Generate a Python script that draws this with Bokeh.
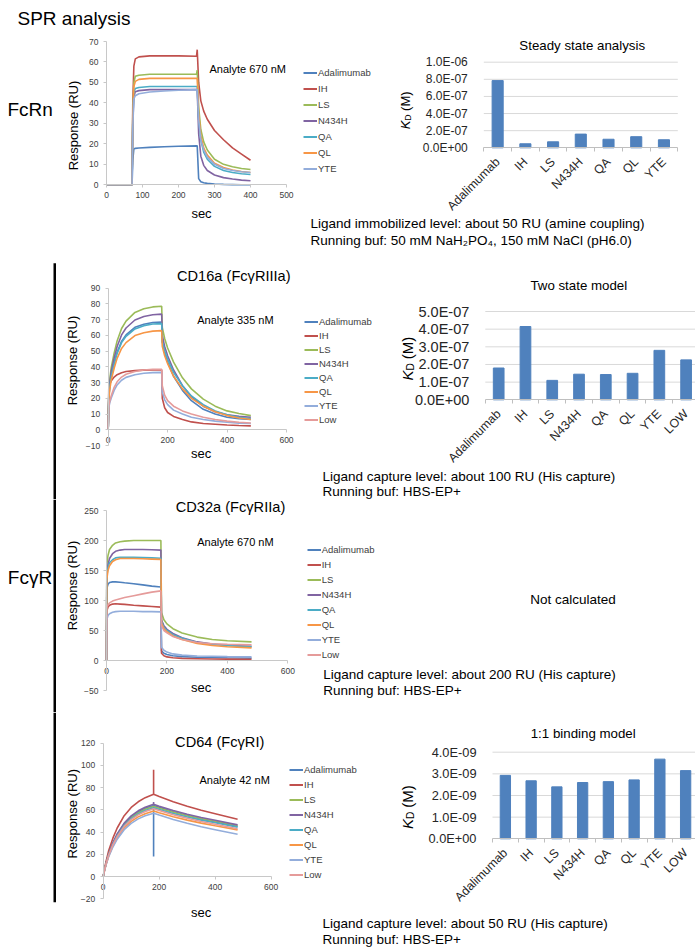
from math import pi
from bokeh.plotting import figure
from bokeh.models import (Range1d, FixedTicker, CustomJSTickFormatter, LinearAxis,
                          Label, Legend, LegendItem, BoxAnnotation)
from bokeh.layouts import row, column
from bokeh.embed import file_html
from bokeh.resources import INLINE

FONT = "Liberation Sans"

series_names = ["Adalimumab", "IH", "LS", "N434H", "QA", "QL", "YTE", "Low"]
series_colors = ["#4F81BD", "#C0504D", "#9BBB59", "#8064A2", "#4BACC6", "#F79646", "#93ADDB", "#E59B9A"]

# ---------------- FcRn sensorgram (Analyte 670 nM) ----------------
fcrn_t = [0, 71, 73, 76, 80, 90, 120, 160, 200, 250, 252, 256, 262, 270, 280, 300, 325, 350, 375, 400]
fcrn_adalimumab = [0, 0, 12, 17.5, 17.8, 18.0, 18.3, 18.6, 18.8, 19.0, 19.0, 3, 1.5, 1.0, 0.7, 0.4, 0.2, 0.1, 0.0, 0.0]
fcrn_ih = [0, 0, 40, 58, 61.5, 62.5, 63, 63, 63, 62.8, 66, 50, 41, 36, 32, 26.5, 22, 18, 15, 12]
fcrn_ls = [0, 0, 35, 50, 53, 53.5, 54, 54, 54, 54, 56, 38, 27, 21, 17, 12.5, 10, 8.8, 8, 7.5]
fcrn_n434h = [0, 0, 30, 43, 45.5, 46, 46.5, 46.5, 46.5, 46.5, 46.5, 25, 14, 9.5, 7, 4.8, 3.5, 2.8, 2.3, 2]
fcrn_qa = [0, 0, 32, 45, 47, 47.5, 48, 48, 48, 48, 48, 32, 22, 16, 12.5, 9, 7, 6, 5.4, 5]
fcrn_ql = [0, 0, 33, 48, 50.5, 51.5, 52, 52, 52, 52, 52, 35, 24, 18, 14.5, 10.5, 8.5, 7.2, 6.5, 6]
fcrn_yte = [0, 0, 28, 42, 43.5, 44.5, 45.3, 45.8, 46.2, 46.5, 46.5, 32, 22, 17, 13.5, 10, 8, 7, 6.4, 6]

# ---------------- CD16a sensorgram (Analyte 335 nM) ----------------
cd16_t = [0, 2, 5, 10, 20, 30, 45, 60, 90, 120, 150, 180, 182, 190, 200, 220, 250, 280, 320, 360, 400, 440, 480]
cd16_adalimumab = [0, 20.6, 27.4, 34.3, 42.5, 49.3, 56.2, 60.3, 65.1, 67.1, 68.2, 68.5, 56, 49, 43, 34, 25, 18.5, 13, 10, 8, 7, 6.5]
cd16_ih = [0, 27, 29, 31, 33.5, 35, 36.3, 37, 37.6, 37.9, 38, 38, 20, 14, 11, 8.5, 6.5, 5, 4, 3.5, 3, 2.7, 2.5]
cd16_ls = [0, 23.5, 31.4, 39.3, 48.7, 56.5, 64.4, 69.1, 74.6, 76.9, 78.1, 78.5, 65, 58, 52, 43, 33, 26, 19.5, 15, 12, 10.3, 9]
cd16_n434h = [0, 22, 29.4, 36.8, 45.6, 52.9, 60.3, 64.7, 69.8, 72, 73.1, 73.5, 60, 53, 47, 38, 28, 21, 15, 11.5, 9.5, 8.5, 8]
cd16_qa = [0, 20.3, 27, 33.8, 41.9, 48.6, 55.4, 59.4, 64.1, 66.2, 67.2, 67.5, 56, 50, 45, 36.5, 28, 21.5, 16, 12, 9.5, 8, 7]
cd16_ql = [0, 18.9, 25.2, 31.5, 39.1, 45.4, 51.7, 55.4, 59.9, 61.7, 62.7, 63, 53, 47, 42, 34, 26, 20, 15, 11.5, 9, 7.5, 6.5]
cd16_yte = [0, 14, 17, 20, 25, 28.5, 31.5, 33.3, 35, 35.9, 36.3, 36.5, 24, 19, 16, 12.5, 10, 8, 6.5, 5.5, 4.8, 4.2, 4]
cd16_low = [0, 15, 18, 21.5, 27, 30.5, 33.5, 35.3, 37, 38, 38.4, 38.5, 28, 22, 18.5, 15, 12, 10, 8, 6.5, 5.5, 4.8, 4.3]

# ---------------- CD32a sensorgram (Analyte 670 nM) ----------------
cd32_t = [0, 1, 5, 10, 20, 30, 45, 60, 90, 120, 150, 180, 182, 190, 200, 220, 250, 300, 350, 400, 480]
cd32_adalimumab = [0, 120, 127, 130, 131, 131, 130.5, 129.5, 128, 126, 124, 122.5, 16, 12, 10, 8, 6.5, 5.5, 5, 4.5, 4]
cd32_ih = [0, 82, 89, 92, 94, 94.5, 94, 93.5, 92, 91, 90, 89, 12, 8, 6, 4.5, 3.5, 3, 2.5, 2.3, 2]
cd32_ls = [0, 160, 175, 185, 192, 196, 198, 199, 200, 200, 200, 200, 80, 68, 61, 53, 46, 39, 35, 33, 31]
cd32_n434h = [0, 145, 160, 170, 178, 182, 184, 185, 185, 185, 184.5, 184, 68, 58, 52, 45, 38, 31, 27.5, 25.5, 23.5]
cd32_qa = [0, 140, 155, 163, 168, 171, 172, 172, 172, 171.5, 171, 170.5, 65, 55, 50, 43, 37, 30, 27, 25, 23]
cd32_ql = [0, 135, 150, 158, 165, 168, 170, 170, 170, 169.5, 169, 168.5, 62, 53, 48, 41, 35, 28.5, 25, 23, 21]
cd32_yte = [0, 68, 75, 78, 80.5, 81.5, 82, 82, 82, 81.5, 81.5, 81, 22, 17, 14, 11, 9, 7.5, 7, 6.5, 6]
cd32_low = [0, 88, 93, 96, 99, 101, 103, 105, 108, 111, 114, 116, 58, 50, 46, 40, 35, 30, 28, 27, 26]

# ---------------- CD64 sensorgram (Analyte 42 nM) ----------------
cd64_t = [0, 5, 10, 20, 35, 50, 75, 100, 125, 150, 180, 180, 180, 200, 250, 300, 350, 400, 480]
cd64_adalimumab = [0, 6.4, 11.5, 20.5, 30, 37.8, 47.4, 53.8, 58.2, 61.4, 64, 18, 64, 62.3, 58.3, 54.9, 51.8, 49.2, 45]
cd64_ih = [0, 7.4, 13.3, 23.7, 34.8, 43.7, 54.8, 62.2, 67.3, 71, 74, 96, 74, 72, 67.3, 63.2, 59.6, 56.5, 51.5]
cd64_ls = [0, 6.3, 11.3, 20.2, 29.6, 37.2, 46.6, 52.9, 57.3, 60.5, 63, 63, 63, 61.5, 57.9, 54.8, 52.1, 49.7, 46]
cd64_n434h = [0, 6.5, 11.7, 20.8, 30.6, 38.4, 48.1, 54.6, 59.2, 62.4, 65, 67, 65, 63.3, 59.5, 56.1, 53.2, 50.6, 46.5]
cd64_qa = [0, 6.2, 11.2, 19.8, 29.1, 36.6, 45.9, 52.1, 56.4, 59.5, 62, 62, 62, 60.4, 56.8, 53.6, 50.8, 48.4, 44.5]
cd64_ql = [0, 5.9, 10.6, 18.9, 27.7, 34.8, 43.7, 49.6, 53.7, 56.6, 59, 59, 59, 57.5, 53.9, 50.8, 48.1, 45.7, 42]
cd64_yte = [0, 5.7, 10.3, 18.2, 26.8, 33.6, 42.2, 47.9, 51.9, 54.7, 57, 57, 57, 55.3, 51.3, 47.9, 44.8, 42.2, 38]
cd64_low = [0, 6.1, 11, 19.5, 28.7, 36, 45.1, 51.2, 55.5, 58.6, 61, 61, 61, 59.4, 55.6, 52.4, 49.5, 47, 43]

# ---------------- KD bar charts ----------------
ss_categories = ["Adalimumab", "IH", "LS", "N434H", "QA", "QL", "YTE"]
ss_kd = [7.85e-7, 4.7e-8, 7.0e-8, 1.6e-7, 1.0e-7, 1.3e-7, 9.4e-8]
ss_ticks = [0, 2e-7, 4e-7, 6e-7, 8e-7, 1e-6]
ss_tick_labels = ["0.0E+00", "2.0E-07", "4.0E-07", "6.0E-07", "8.0E-07", "1.0E-06"]

ts_categories = ["Adalimumab", "IH", "LS", "N434H", "QA", "QL", "YTE", "LOW"]
ts_kd = [1.8e-7, 4.15e-7, 1.1e-7, 1.45e-7, 1.43e-7, 1.5e-7, 2.8e-7, 2.26e-7]
ts_ticks = [0, 1e-7, 2e-7, 3e-7, 4e-7, 5e-7]
ts_tick_labels = ["0.0E+00", "1.0E-07", "2.0E-07", "3.0E-07", "4.0E-07", "5.0E-07"]

ob_categories = ["Adalimumab", "IH", "LS", "N434H", "QA", "QL", "YTE", "LOW"]
ob_kd = [2.93e-9, 2.68e-9, 2.4e-9, 2.6e-9, 2.64e-9, 2.72e-9, 3.68e-9, 3.15e-9]
ob_ticks = [0, 1e-9, 2e-9, 3e-9, 4e-9]
ob_tick_labels = ["0.0E+00", "1.0E-09", "2.0E-09", "3.0E-09", "4.0E-09"]


def span(d0, p0, d1, p1, size):
    """Range whose ends map to the figure edges, given two pixel anchors."""
    s = (p1 - p0) / (d1 - d0)
    start = d0 - p0 / s
    return Range1d(start, start + size / s)


def base_fig(W, H, xr, yr):
    p = figure(width=W, height=H, title=None, x_range=xr, y_range=yr,
               x_axis_type=None, y_axis_type=None, output_backend="svg",
               toolbar_location=None, min_border_left=0, min_border_right=0,
               min_border_top=0, min_border_bottom=0)
    p.outline_line_color = None
    p.background_fill_alpha = 0
    return p


def text(p, g, px, py, s, size, align="left", angle=0.0, style="normal", color="#000000"):
    p.add_layout(Label(x=px - g[0], y=g[1] - py, x_units="screen", y_units="screen",
                       text=s, text_font=FONT, text_font_size=f"{size}px", text_align=align,
                       text_baseline="middle", angle=angle, text_font_style=style,
                       text_color=color))


def vbar_line(p, g, x1, x2, y1, y2):
    p.add_layout(BoxAnnotation(left=x1 - g[0], right=x2 - g[0],
                               top=g[1] - y1, bottom=g[1] - y2,
                               left_units="screen", right_units="screen",
                               top_units="screen", bottom_units="screen",
                               fill_color="#000000", fill_alpha=1.0, line_color=None))


def sensor(W, H, xa, ya, xt, yt):
    # xa / ya: ((data0, pix0), (data1, pix1)) anchors; y pixels from figure bottom
    p = base_fig(W, H, span(xa[0][0], xa[0][1], xa[1][0], xa[1][1], W),
                 span(ya[0][0], ya[0][1], ya[1][0], ya[1][1], H))
    xax = LinearAxis(fixed_location=0, bounds=(xt[0], xt[-1]), ticker=FixedTicker(ticks=xt))
    yax = LinearAxis(fixed_location=0, bounds=(yt[0], yt[-1]), ticker=FixedTicker(ticks=yt))
    for ax in (xax, yax):
        ax.axis_line_color = "#C8C8C8"
        ax.major_tick_line_color = "#C8C8C8"
        ax.major_tick_in = 0
        ax.major_tick_out = 3
        ax.minor_tick_line_color = None
        ax.major_label_text_font = FONT
        ax.major_label_text_font_size = "8.5px"
        ax.major_label_text_color = "#404040"
    xax.major_label_standoff = 4
    yax.major_label_standoff = 5
    p.add_layout(xax, "below")
    p.add_layout(yax, "left")
    return p


def draw_series(p, t, series_list):
    for vals, c in zip(series_list, series_colors):
        p.line(t, vals, line_color=c, line_width=1.6)


def add_legend(p, g, n, x_line, y_first, spacing, h=11):
    x_any = p.x_range.start
    y_any = p.y_range.start
    rs = [p.line(x=[x_any], y=[y_any], line_color=c, line_width=2) for c in series_colors[:n]]
    items = [LegendItem(label=nm, renderers=[r]) for nm, r in zip(series_names[:n], rs)]
    total = n * h + (n - 1) * spacing
    bottom = y_first - h / 2 + total
    leg = Legend(items=items, location=(x_line - g[0], g[1] - bottom),
                 glyph_width=14, glyph_height=h, label_height=h, label_width=10,
                 spacing=spacing, padding=0, margin=0, label_standoff=1,
                 label_text_font=FONT, label_text_font_size="9.5px",
                 label_text_color="#404040", border_line_color=None,
                 background_fill_alpha=0)
    p.add_layout(leg)


def barchart(W, H, xa, ya, cats, vals, ticks, labels, ylabel_size):
    n = len(cats)
    q = base_fig(W, H, span(0, xa[0], n, xa[1], W), span(0, ya[0], ticks[-1], ya[1], H))
    q.segment(x0=[0] * (len(ticks) - 1), x1=[n] * (len(ticks) - 1), y0=ticks[1:], y1=ticks[1:],
              line_color="#D9D9D9", line_width=1)
    centers = [i + 0.5 for i in range(n)]
    q.vbar(x=centers, top=vals, width=0.4, color="#4F81BD")
    yax = LinearAxis(fixed_location=0, bounds=(ticks[0], ticks[-1]), ticker=FixedTicker(ticks=ticks))
    yax.formatter = CustomJSTickFormatter(
        args=dict(tv=ticks, tl=labels),
        code="for (let i = 0; i < tv.length; i++) { if (Math.abs(tv[i] - tick) < 1e-20) return tl[i]; } return '';")
    yax.axis_line_color = None
    yax.major_tick_line_color = None
    yax.minor_tick_line_color = None
    yax.major_label_standoff = 10
    yax.major_label_text_font = FONT
    yax.major_label_text_font_size = f"{ylabel_size}px"
    yax.major_label_text_color = "#262626"
    # category boundary tick marks (Excel style)
    bax = LinearAxis(fixed_location=0, bounds=(0, n), ticker=FixedTicker(ticks=list(range(n + 1))))
    bax.formatter = CustomJSTickFormatter(code="return '';")
    bax.axis_line_color = "#BFBFBF"
    bax.major_tick_line_color = "#BFBFBF"
    bax.major_tick_in = 0
    bax.major_tick_out = 4
    bax.minor_tick_line_color = None
    xax = LinearAxis(fixed_location=0, bounds=(0, n), ticker=FixedTicker(ticks=centers))
    xax.formatter = CustomJSTickFormatter(
        args=dict(names=cats),
        code="const i = Math.round(tick - 0.5); return (i >= 0 && i < names.length) ? names[i] : '';")
    xax.axis_line_color = None
    xax.major_tick_line_color = None
    xax.minor_tick_line_color = None
    xax.major_label_orientation = pi / 4
    xax.major_label_standoff = 6
    xax.major_label_text_font = FONT
    xax.major_label_text_font_size = "12.3px"
    xax.major_label_text_color = "#262626"
    q.add_layout(yax, "left")
    q.add_layout(bax, "below")
    q.add_layout(xax, "below")
    return q


def kd_label(q, g, cx, cy, size):
    L = 2.9 * size
    yb = cy + L / 2
    text(q, g, cx, yb, "K", size, angle=pi / 2, style="italic")
    text(q, g, cx + size * 0.23, yb - 0.67 * size, "D", size * 0.68, angle=pi / 2)
    text(q, g, cx, yb - 0.67 * size - 0.5 * size - 0.25 * size, "(M)", size, angle=pi / 2)


LIG = 13.5
TTL = 14.6

# ===== Band 1: FcRn (figure at page 0,0 size 298x252) =====
p1 = sensor(298, 252, ((0, 106), (500, 286)), ((0, 67.7), (70, 211)),
            [0, 100, 200, 300, 400, 500], [0, 10, 20, 30, 40, 50, 60, 70])
g1 = (0, 252)
draw_series(p1, fcrn_t, [fcrn_adalimumab, fcrn_ih, fcrn_ls, fcrn_n434h, fcrn_qa, fcrn_ql, fcrn_yte])
text(p1, g1, 17, 18, "SPR analysis", 19)
text(p1, g1, 7, 109, "FcRn", 19)
text(p1, g1, 72.7, 125, "Response (RU)", 13, align="center", angle=pi / 2)
text(p1, g1, 201, 213, "sec", 13, align="center")
text(p1, g1, 209, 68, "Analyte 670 nM", 11)

q1 = barchart(397, 252, (185.3, 379.3), (104.7, 190.3), ss_categories, ss_kd, ss_ticks, ss_tick_labels, 12)
h1 = (298, 252)
text(q1, h1, 581.7, 45, "Steady state analysis", 13.3, align="center")
kd_label(q1, h1, 405, 110, 13)
add_legend(q1, h1, 7, 303, 72, 5)
text(q1, h1, 310, 223.3, "Ligand immobilized level: about 50 RU (amine coupling)", LIG)
text(q1, h1, 310, 240, "Running buf: 50 mM NaH\u2082PO\u2084, 150 mM NaCl (pH6.0)", LIG)

# ===== Band 2: CD16a (figure at page 0,252 size 300x247) =====
p2 = sensor(300, 247, ((0, 107.7), (600, 286)), ((-10, 54), (90, 211.3)),
            [0, 200, 400, 600], [-10, 0, 10, 20, 30, 40, 50, 60, 70, 80, 90])
g2 = (0, 499)
draw_series(p2, cd16_t, [cd16_adalimumab, cd16_ih, cd16_ls, cd16_n434h, cd16_qa, cd16_ql, cd16_yte, cd16_low])
text(p2, g2, 233.3, 275, "CD16a (Fc\u03b3RIIIa)", TTL, align="center")
text(p2, g2, 196.7, 319.3, "Analyte 335 nM", 11)
text(p2, g2, 71.7, 360, "Response (RU)", 13, align="center", angle=pi / 2)
text(p2, g2, 200.7, 453.3, "sec", 13, align="center")
vbar_line(p2, g2, 53, 55.5, 262.7, 499)

q2 = barchart(395, 247, (184.8, 399), (99.7, 188), ts_categories, ts_kd, ts_ticks, ts_tick_labels, 14.5)
h2 = (300, 499)
text(q2, h2, 578.3, 285, "Two state model", 13.3, align="center")
kd_label(q2, h2, 406.7, 358.3, 15)
add_legend(q2, h2, 8, 304, 321, 3)
text(q2, h2, 322, 476, "Ligand capture level: about 100 RU (His capture)", LIG)
text(q2, h2, 322, 490.5, "Running buf: HBS-EP+", LIG)

# ===== Band 3: CD32a (figure at page 0,499 size 300x213) =====
p3 = sensor(300, 213, ((0, 106), (600, 287.3)), ((-50, 22), (250, 202)),
            [0, 200, 400, 600], [-50, 0, 50, 100, 150, 200, 250])
g3 = (0, 712)
draw_series(p3, cd32_t, [cd32_adalimumab, cd32_ih, cd32_ls, cd32_n434h, cd32_qa, cd32_ql, cd32_yte, cd32_low])
text(p3, g3, 230, 506, "CD32a (Fc\u03b3RIIa)", TTL, align="center")
text(p3, g3, 196.7, 541.7, "Analyte 670 nM", 11)
text(p3, g3, 71.7, 585, "Response (RU)", 13, align="center", angle=pi / 2)
text(p3, g3, 200.7, 686.7, "sec", 13, align="center")
text(p3, g3, 7.3, 576.7, "Fc\u03b3R", 19)
vbar_line(p3, g3, 53, 55.5, 499, 712)

q3 = base_fig(395, 213, Range1d(0, 395), Range1d(0, 213))
h3 = (300, 712)
text(q3, h3, 572.5, 599, "Not calculated", 13.5, align="center")
add_legend(q3, h3, 8, 306.7, 549.3, 4)
text(q3, h3, 322.7, 674.3, "Ligand capture level: about 200 RU (His capture)", LIG)
text(q3, h3, 322.7, 690, "Running buf: HBS-EP+", LIG)

# ===== Band 4: CD64 (figure at page 0,712 size 285x235) =====
p4 = sensor(285, 235, ((0, 102.7), (600, 270.7)), ((-20, 48.7), (120, 204.3)),
            [0, 200, 400, 600], [-20, 0, 20, 40, 60, 80, 100, 120])
g4 = (0, 947)
draw_series(p4, cd64_t, [cd64_adalimumab, cd64_ih, cd64_ls, cd64_n434h, cd64_qa, cd64_ql, cd64_yte, cd64_low])
text(p4, g4, 219.2, 741.7, "CD64 (Fc\u03b3RI)", TTL, align="center")
text(p4, g4, 199, 779, "Analyte 42 nM", 11)
text(p4, g4, 71.7, 813.3, "Response (RU)", 13, align="center", angle=pi / 2)
text(p4, g4, 200.7, 912.3, "sec", 13, align="center")
vbar_line(p4, g4, 53, 55.5, 712, 901.7)

q4 = barchart(410, 235, (207, 413), (108.7, 195.3), ob_categories, ob_kd, ob_ticks, ob_tick_labels, 12.8)
h4 = (285, 947)
text(q4, h4, 582.7, 733, "1:1 binding model", 13.3, align="center")
kd_label(q4, h4, 406.7, 806.7, 15)
add_legend(q4, h4, 8, 289, 769.3, 4)
text(q4, h4, 322, 923.3, "Ligand capture level: about 50 RU (His capture)", LIG)
text(q4, h4, 322, 939, "Running buf: HBS-EP+", LIG)

layout = column(row(p1, q1), row(p2, q2), row(p3, q3), row(p4, q4))
open("out.html", "w").write(file_html(layout, INLINE))
